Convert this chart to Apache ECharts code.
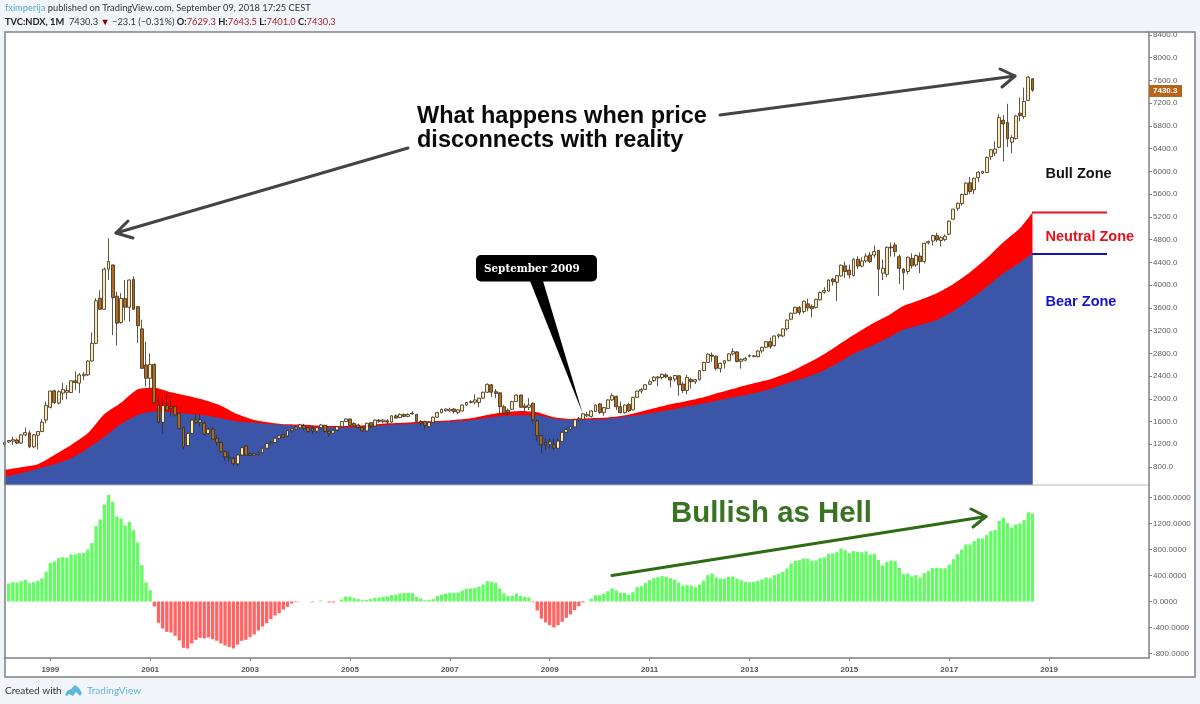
<!DOCTYPE html>
<html lang="en">
<head>
<meta charset="UTF-8">
<title>TVC:NDX, 1M</title>
<script src="https://cdn.jsdelivr.net/npm/echarts@6/dist/echarts.min.js"></script>
<style>
html,body{margin:0;padding:0;background:#f1f4f9;}
#main{width:1200px;height:704px;}
</style>
</head>
<body>
<div id="main"></div>
<script type="text/javascript">
// tick labels
var yearTicks = ['1999-01','2001-01','2003-01','2005-01','2007-01','2009-01','2011-01','2013-01','2015-01','2017-01','2019-01'];
var priceTicks = [800,1200,1600,2000,2400,2800,3200,3600,4000,4400,4800,5200,5600,6000,6400,6800,7200,7600,8000,8400];
var macdTicks = [-800,-400,0,400,800,1200,1600];

// monthly candles, first one is 1998-02
var opens = [
1195,1240,1255,1275,1220,1365,1400,1155,1360,1425,
1625,1850,2140,1925,2100,2115,2110,2315,2275,2405,
2420,2665,2975,3770,3575,4280,4355,3805,3340,3765,
3610,4100,3620,3230,2595,2360,2605,1890,1585,1880,
1860,1860,1745,1490,1175,1390,1630,1590,1570,1390,
1465,1305,1230,1070,975,950,855,1010,1170,1030,
1010,1020,1050,1130,1215,1230,1305,1365,1345,1440,
1470,1490,1530,1490,1480,1430,1490,1535,1430,1395,
1450,1510,1600,1645,1565,1540,1500,1435,1580,1520,
1625,1600,1615,1590,1700,1670,1725,1690,1735,1725,
1600,1600,1510,1585,1675,1755,1790,1785,1820,1760,
1785,1890,1935,1940,1935,2010,2115,2245,2125,2105,
1860,1800,1815,1950,2065,1875,1850,1920,1610,1350,
1230,1200,1190,1130,1250,1410,1465,1505,1630,1640,
1700,1690,1775,1910,1755,1830,1980,2040,1860,1755,
1900,1805,2025,2135,2165,2255,2320,2365,2375,2420,
2380,2345,2405,2260,2145,2340,2300,2335,2495,2640,
2770,2750,2535,2625,2670,2790,2825,2660,2680,2750,
2745,2740,2840,2905,3005,2935,3105,3105,3230,3400,
3505,3605,3535,3670,3625,3605,3740,3875,3895,4105,
4050,4160,4340,4265,4170,4455,4335,4425,4530,4530,
4610,4210,4190,4670,4705,4500,4280,4240,4470,4355,
4510,4415,4740,4775,4870,4785,4800,4895,5160,5350,
5435,5595,5800,5675,5890,5970,5980,6260,6320,6425,
6900,6860,6515,6580,7025,6965,7250,7629.3];
var closes = [
1230,1265,1280,1220,1365,1405,1155,1365,1425,1590,
1885,2135,1935,2125,2165,2145,2315,2285,2420,2430,
2665,2975,3725,3575,4280,4415,3780,3330,3765,3610,
4090,3575,3285,2535,2360,2605,1930,1585,1880,1800,
1830,1715,1480,1155,1390,1625,1580,1625,1380,1465,
1290,1230,1070,980,960,855,1010,1140,1010,1005,
1030,1040,1130,1215,1230,1305,1350,1320,1440,1470,
1500,1540,1480,1425,1430,1490,1540,1425,1385,1440,
1510,1600,1645,1530,1525,1495,1435,1570,1520,1625,
1605,1625,1590,1700,1660,1725,1690,1725,1745,1600,
1575,1530,1585,1675,1755,1815,1820,1815,1775,1805,
1890,1935,1950,1980,2010,2115,2255,2115,2095,1860,
1745,1755,1950,2065,1850,1845,1890,1630,1350,1190,
1185,1240,1135,1255,1410,1460,1510,1630,1650,1735,
1725,1785,1890,1760,1845,1980,2055,1860,1755,1890,
1785,2025,2135,2160,2245,2300,2380,2385,2430,2385,
2330,2410,2245,2145,2375,2300,2335,2495,2640,2785,
2750,2535,2625,2670,2790,2830,2655,2695,2710,2760,
2755,2840,2905,3005,2915,3105,3125,3230,3385,3505,
3610,3520,3715,3600,3585,3750,3870,3905,4090,4060,
4165,4350,4240,4180,4455,4335,4425,4510,4415,4590,
4280,4295,4665,4655,4590,4295,4220,4490,4340,4520,
4415,4735,4765,4870,4795,4835,4860,5125,5335,5440,
5595,5795,5645,5880,5985,6000,6245,6380,6395,6950,
6835,6575,6595,6975,6985,7230,7660,7430.3];
var lows = [
1150,1225,1190,1200,1205,1340,1130,1130,1110,1410,
1570,1830,1910,1900,1980,1990,2100,2155,2100,2330,
2400,2650,2960,3560,3560,4090,3120,2935,3320,3375,
3355,3560,2980,2530,2215,2185,1920,1570,1380,1790,
1690,1690,1460,1115,1160,1380,1560,1510,1360,1370,
1280,1170,1050,910,895,820,810,1000,990,1000,
1000,1000,1040,1125,1190,1220,1290,1310,1335,1400,
1450,1470,1440,1400,1380,1400,1470,1400,1340,1380,
1430,1490,1590,1520,1510,1470,1420,1425,1490,1510,
1580,1570,1545,1580,1650,1660,1680,1675,1715,1590,
1530,1465,1490,1575,1665,1745,1770,1775,1740,1730,
1775,1880,1920,1900,1850,2000,2105,2030,2010,1720,
1720,1700,1805,1945,1840,1780,1800,1560,1250,1040,
1100,1130,1090,1120,1240,1395,1440,1490,1600,1610,
1680,1670,1770,1730,1700,1820,1965,1800,1745,1740,
1770,1795,2015,2090,2160,2240,2300,2220,2340,2360,
2200,2300,2055,2100,2080,2180,2260,2320,2485,2630,
2650,2500,2460,2530,2660,2760,2640,2530,2660,2730,
2730,2730,2800,2890,2880,2920,3060,3080,3200,3390,
3495,3470,3500,3540,3430,3590,3730,3850,3885,3990,
3720,4150,4130,4120,4150,4280,4310,4400,4390,4480,
3810,4090,4140,4500,4500,4020,3915,4190,4290,4320,
4210,4380,4715,4700,4760,4680,4770,4880,5150,5310,
5400,5580,5600,5600,5810,5950,5970,6200,6270,6410,
6175,6430,6320,6560,6880,6925,7240,7401];
var highs = [
1250,1275,1330,1300,1370,1495,1445,1380,1430,1640,
1950,2140,2160,2150,2280,2240,2320,2480,2450,2470,
2680,3165,3770,3910,4310,4825,4360,3885,3860,4090,
4100,4150,3630,3390,3005,2800,2620,2040,1990,2095,
1970,1880,1760,1510,1400,1640,1740,1730,1600,1490,
1500,1360,1250,1090,1065,975,1030,1150,1180,1060,
1050,1080,1135,1225,1260,1320,1360,1390,1450,1480,
1525,1560,1560,1500,1510,1500,1555,1540,1440,1450,
1520,1610,1655,1650,1590,1560,1510,1580,1590,1640,
1645,1645,1640,1710,1725,1745,1740,1745,1780,1735,
1625,1615,1600,1690,1770,1825,1830,1845,1835,1815,
1900,1945,1975,2080,2020,2125,2270,2260,2170,2110,
1890,1830,1965,2080,2075,1920,2010,1935,1640,1370,
1300,1300,1300,1300,1420,1490,1520,1640,1680,1745,
1770,1795,1900,1925,1855,1990,2095,2060,1950,1900,
1930,2035,2145,2190,2255,2340,2400,2395,2445,2450,
2390,2420,2415,2300,2420,2370,2350,2505,2650,2800,
2815,2760,2635,2680,2800,2890,2840,2710,2740,2780,
2770,2855,2915,3020,3075,3115,3145,3235,3395,3515,
3620,3630,3730,3760,3660,3760,3885,3960,4100,4130,
4180,4360,4415,4360,4470,4510,4490,4560,4580,4695,
4610,4450,4680,4750,4750,4540,4300,4500,4560,4540,
4575,4745,4785,4885,4920,4860,4890,5135,5345,5455,
5610,5810,5900,5890,6000,6010,6265,6395,6530,7005,
6990,7190,6640,6990,7300,7475,7680,7643.5];

// lower pane histogram, same months as the candles
var macdHist = [
null,277,298,292,313,333,282,298,318,354,
457,595,616,667,682,672,723,723,744,744,
800,898,1159,1262,1493,1642,1534,1308,1277,1170,
1226,1098,908,559,292,174,-77,-328,-415,-467,
-477,-528,-600,-713,-723,-646,-590,-559,-569,-554,
-580,-605,-646,-677,-698,-723,-662,-605,-590,-549,
-508,-446,-385,-333,-272,-215,-180,-123,-82,-31,
-10,-3,0,0,-10,0,15,0,-15,-15,
0,30,77,72,51,36,20,25,41,56,
62,72,77,97,103,123,133,133,133,72,
46,20,25,36,82,108,123,133,133,139,
169,195,200,210,231,262,313,303,287,200,
123,82,87,123,87,72,62,-10,-138,-262,
-323,-364,-400,-364,-313,-251,-200,-133,-72,-15,
0,41,97,97,118,159,200,169,133,133,
103,144,221,236,282,328,359,374,390,380,
359,339,292,241,251,246,221,262,323,405,
431,369,354,354,380,385,349,328,303,298,
303,318,339,369,359,405,426,457,508,585,
626,636,662,657,626,631,667,677,734,739,
759,816,790,744,775,764,759,770,723,734,
641,554,605,631,621,518,421,431,385,405,
369,436,467,513,518,513,513,569,651,728,
800,877,877,928,970,970,1021,1082,1098,1241,
1288,1206,1139,1185,1200,1252,1370,1354];

var bandMonths = [
'1998-02','1998-06','1998-10','1999-02','1999-06','1999-10','2000-02','2000-06','2000-10',
'2001-02','2001-06','2001-10','2002-02','2002-06','2002-10','2003-02','2003-06','2003-10',
'2004-02','2004-06','2004-10','2005-02','2005-06','2005-10','2006-02','2006-06','2006-10',
'2007-02','2007-06','2007-10','2008-02','2008-06','2008-10','2009-02','2009-06','2009-10',
'2010-02','2010-06','2010-10','2011-02','2011-06','2011-10','2012-02','2012-06','2012-10',
'2013-02','2013-06','2013-10','2014-02','2014-06','2014-10','2015-02','2015-06','2015-10',
'2016-02','2016-06','2016-10','2017-02','2017-06','2017-10','2018-02','2018-06','2018-09'];
var redTop = [
747,794,847,1011,1187,1392,1733,1932,2167,
2196,2114,2049,1979,1879,1727,1627,1580,1550,
1545,1527,1521,1527,1539,1568,1580,1598,1609,
1627,1656,1715,1762,1785,1762,1674,1644,1656,
1665,1697,1756,1832,1903,1961,2026,2114,2196,
2272,2343,2448,2590,2745,2930,3120,3299,3450,
3633,3739,3856,4020,4226,4472,4754,5000,5276];
var blueTop = [
630,688,770,847,952,1128,1333,1556,1715,
1774,1762,1732,1709,1656,1597,1580,1550,1533,
1510,1498,1492,1498,1510,1539,1551,1568,1586,
1603,1621,1668,1697,1709,1709,1650,1627,1633,
1640,1674,1709,1756,1803,1862,1920,1979,2038,
2096,2173,2272,2360,2470,2620,2790,2918,3065,
3220,3300,3387,3545,3750,3973,4208,4396,4560];

// month axis runs on past the data, to the right edge
var months = [];
for (var y = 1998; y <= 2021; y++) {
	for (var m = 1; m <= 12; m++) {
		var key = y + '-' + (m < 10 ? '0' + m : m);
		if (key >= '1998-02' && key <= '2021-01') months.push(key);
	}
}

var candleData = opens.map(function(o, i) {
	return [o, closes[i], lows[i], highs[i]];
});

function pairs(values) {
	return bandMonths.map(function(d, i) { return [d, values[i]]; });
}

function isYearTick(index, value) {
	return yearTicks.indexOf(value) >= 0;
}

var fontAxis = '"Liberation Sans", Arial, sans-serif';
var fontHead = 'Lato, sans-serif';
var frameColor = '#808080';
var labelColor = '#5c5c5c';

function arrow(points, color) {
	return {type: 'polyline', z: 50, shape: {points: points},
		style: {stroke: color, lineWidth: 3, fill: null, lineCap: 'round', lineJoin: 'round'}};
}

function note(x, y, text, size, color, family) {
	return {type: 'text', z: 60, x: x, y: y, style: {text: text, fill: color,
		font: 'bold ' + size + 'px ' + (family || fontAxis), textVerticalAlign: 'middle', lineHeight: 26}};
}

var chart = echarts.init(document.getElementById('main'), null, {renderer: 'canvas'});

var option = {
	animation: false,
	backgroundColor: '#f1f4f9',
	grid: [
		{left: 4.5, top: 32, width: 1144.5, height: 453},
		{left: 4.5, top: 485, width: 1144.5, height: 173}
	],
	xAxis: [
		{type: 'category', gridIndex: 0, data: months, boundaryGap: false,
			axisLine: {show: false}, axisTick: {show: false}, axisLabel: {show: false}, splitLine: {show: false}},
		{type: 'category', gridIndex: 1, data: months, boundaryGap: false,
			axisLine: {onZero: false, lineStyle: {color: frameColor, width: 1.5}},
			axisTick: {interval: isYearTick, length: 3, lineStyle: {color: frameColor}},
			axisLabel: {interval: isYearTick, margin: 8, fontSize: 8, fontFamily: fontAxis, color: '#555', fontWeight: 'bold',
				formatter: function(v) { return v.slice(0, 4); }},
			splitLine: {show: false}}
	],
	yAxis: [
		{type: 'value', gridIndex: 0, position: 'right', min: 483, max: 8453, scale: true,
			axisLine: {show: true, lineStyle: {color: frameColor, width: 1.5}},
			axisTick: {show: true, length: 3, customValues: priceTicks, lineStyle: {color: frameColor}},
			axisLabel: {customValues: priceTicks, margin: 4, fontSize: 8, fontFamily: fontAxis, color: labelColor,
				formatter: function(v) { return v.toFixed(1); }},
			splitLine: {show: false}},
		{type: 'value', gridIndex: 1, position: 'right', min: -869, max: 1792, scale: true,
			axisLine: {show: true, lineStyle: {color: frameColor, width: 1.5}},
			axisTick: {show: true, length: 3, customValues: macdTicks, lineStyle: {color: frameColor}},
			axisLabel: {customValues: macdTicks, margin: 4, fontSize: 8, fontFamily: fontAxis, color: labelColor,
				formatter: function(v) { return v.toFixed(4); }},
			splitLine: {show: false}}
	],
	series: [
		{name: 'Neutral', type: 'line', xAxisIndex: 0, yAxisIndex: 0, data: pairs(redTop), showSymbol: false,
			smooth: 0.2, lineStyle: {width: 0}, areaStyle: {color: '#ff0000', opacity: 1, origin: 'start'}, z: 2},
		{name: 'Bear', type: 'line', xAxisIndex: 0, yAxisIndex: 0, data: pairs(blueTop), showSymbol: false,
			smooth: 0.2, lineStyle: {width: 0}, areaStyle: {color: '#3b56a8', opacity: 1, origin: 'start'}, z: 3},
		{name: 'NDX', type: 'candlestick', xAxisIndex: 0, yAxisIndex: 0, data: candleData, barWidth: 3.4, z: 4,
			itemStyle: {color: '#fbe8b8', color0: '#b26a20', borderColor: '#3a2c14', borderColor0: '#3a2c14', borderWidth: 0.8}},
		{name: 'Histogram', type: 'bar', xAxisIndex: 1, yAxisIndex: 1, data: macdHist, barWidth: 3.3,
			itemStyle: {color: function(p) { return p.value < 0 ? '#ff6464' : '#62fb62'; }}}
	],
	graphic: [
		// panel behind everything, frame on top of the areas
		{type: 'rect', z: -5, shape: {x: 5, y: 32, width: 1190, height: 645}, style: {fill: '#ffffff'}},
		{type: 'line', z: 5, shape: {x1: 5, y1: 485, x2: 1149, y2: 485}, style: {stroke: '#b5b5b5', lineWidth: 1}},
		{type: 'rect', z: 40, shape: {x: 5, y: 32, width: 1190, height: 645},
			style: {fill: null, stroke: frameColor, lineWidth: 1.5}},

		// header
		{type: 'text', z: 60, x: 5, y: 8, style: {
			text: '{a|fximperija} published on TradingView.com, September 09, 2018 17:25 CEST',
			font: '9.3px ' + fontHead, fill: '#333', textVerticalAlign: 'middle',
			rich: {a: {fill: '#58b0d8', font: '9.3px ' + fontHead}}}},
		{type: 'text', z: 60, x: 5, y: 21.5, style: {
			text: '{b|TVC:NDX, 1M}  7430.3 {d|▼} \u221223.1 (\u22120.31%) {b|O:}{r|7629.3} {b|H:}{r|7643.5} {b|L:}{r|7401.0} {b|C:}{r|7430.3}',
			font: '9.3px ' + fontHead, fill: '#333', textVerticalAlign: 'middle',
			rich: {
				b: {font: 'bold 9.3px ' + fontHead, fill: '#222'},
				r: {font: '9.3px ' + fontHead, fill: '#a8222c'},
				d: {font: '9.3px ' + fontHead, fill: '#8b0000'}
			}}},

		// footer
		{type: 'text', z: 60, x: 5, y: 691, style: {text: 'Created with', font: '10px ' + fontHead, fill: '#333', textVerticalAlign: 'middle'}},
		{type: 'polygon', z: 60, shape: {points: [[65,695],[67,691],[71,689],[75,685],[79,688],[82,693],[80,696],[76,692],[73,696],[69,694],[67,696]]}, style: {fill: '#5db7dc'}},
		{type: 'text', z: 60, x: 87, y: 691, style: {text: 'TradingView', font: '10px ' + fontHead, fill: '#62b5da', textVerticalAlign: 'middle'}},

		// last price tag
		{type: 'rect', z: 60, shape: {x: 1149, y: 85, width: 33, height: 12}, style: {fill: '#b8651a'}},
		{type: 'text', z: 61, x: 1153, y: 91, style: {text: '7430.3', font: 'bold 8px ' + fontAxis, fill: '#fff', textVerticalAlign: 'middle'}},

		// annotations
		arrow([[408,148],[116,233]], '#444'),
		arrow([[128,221],[116,233],[133,238]], '#444'),
		arrow([[720,115],[1015,76]], '#444'),
		arrow([[1000,69],[1015,76],[1002,87]], '#444'),
		arrow([[612,575.5],[986,516.5]], '#2f6b14'),
		arrow([[971,509],[986,516.5],[973,527]], '#2f6b14'),
		note(417, 117, 'What happens when price', 23.5, '#0a0a0a'),
		note(417, 141, 'disconnects with reality', 23.5, '#0a0a0a'),
		note(671, 514, 'Bullish as Hell', 29.4, '#3a7322'),
		note(1045.5, 173.5, 'Bull Zone', 14.5, '#111'),
		note(1045.5, 236.5, 'Neutral Zone', 14.5, '#e8101a'),
		note(1045.5, 301.5, 'Bear Zone', 14.5, '#1414c8'),
		{type: 'line', z: 50, shape: {x1: 1032, y1: 212.5, x2: 1107, y2: 212.5}, style: {stroke: '#e8101a', lineWidth: 2}},
		{type: 'line', z: 50, shape: {x1: 1032, y1: 254, x2: 1107, y2: 254}, style: {stroke: '#1414b4', lineWidth: 2}},

		// callout
		{type: 'polygon', z: 50, shape: {points: [[530,281],[543,281],[582.5,413]]}, style: {fill: '#000'}},
		{type: 'rect', z: 50, shape: {x: 476, y: 255, width: 121, height: 26.5, r: 5}, style: {fill: '#000'}},
		note(484, 269, 'September 2009', 10.4, '#fff', '"DejaVu Serif", serif')
	]
};
chart.setOption(option);
</script>
</body>
</html>
